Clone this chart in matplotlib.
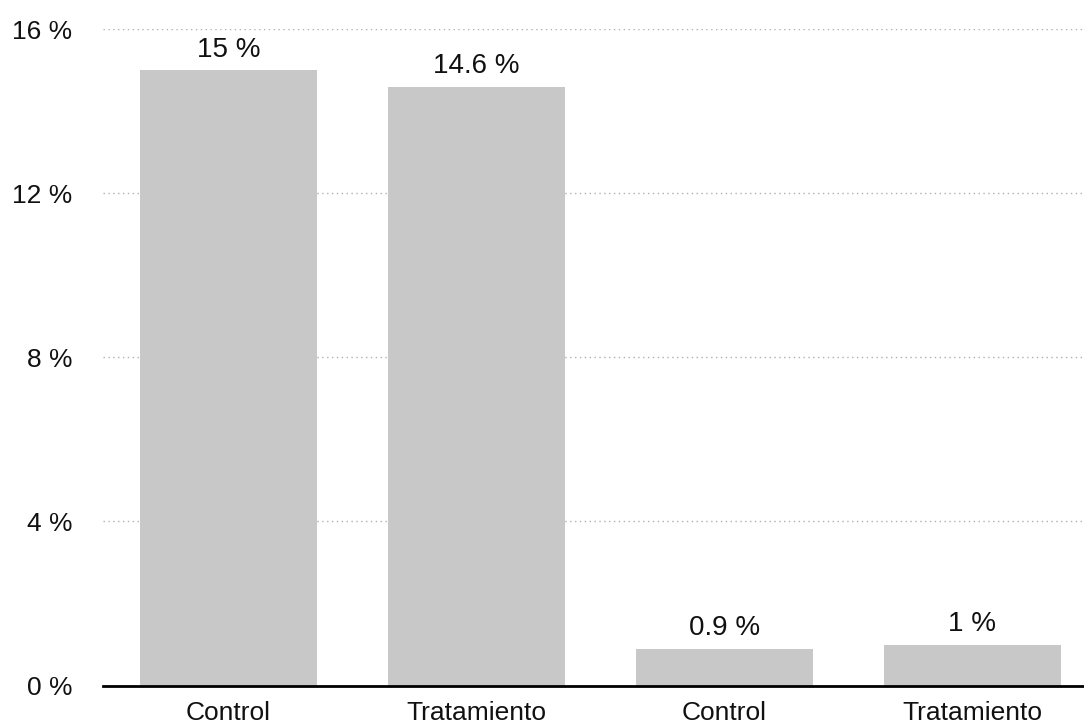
import numpy as np
import matplotlib.pyplot as plt

plt.rcParams['font.family'] = ['Liberation Sans', 'DejaVu Sans']

categories = ['Control', 'Tratamiento', 'Control', 'Tratamiento']
values = [15, 14.6, 0.9, 1]
value_labels = ['15 %', '14.6 %', '0.9 %', '1 %']
yticks = [0, 4, 8, 12, 16]

fig = plt.figure(figsize=(10.84, 7.27), dpi=100)
ax = fig.add_axes([0.095, 0.057, 0.905, 0.903])

x = np.arange(len(categories))
bars = ax.bar(x, values, width=0.714, color='#c8c8c8', zorder=2)
for b, lab in zip(bars, value_labels):
    ax.text(b.get_x() + b.get_width() / 2, b.get_height() + 0.18, lab,
            ha='center', va='bottom', fontsize=20, color='#111111')

ax.set_xlim(-0.506, 3.45)
ax.set_ylim(0, 16)
ax.set_yticks(yticks)
ax.set_yticklabels([f'{t} %' for t in yticks])
ax.set_xticks(x)
ax.set_xticklabels(categories)
ax.tick_params(axis='y', length=0, pad=22, labelsize=19, labelcolor='#111111')
ax.tick_params(axis='x', length=0, pad=11, labelsize=19, labelcolor='#111111')

ax.grid(axis='y', linestyle=(0, (1, 2.5)), color='#b0b0b0', linewidth=1, zorder=0)
for s in ['top', 'right', 'left']:
    ax.spines[s].set_visible(False)
ax.spines['bottom'].set_linewidth(2)
ax.spines['bottom'].set_color('black')
ax.spines['bottom'].set_zorder(3)

plt.savefig('out.png', dpi=100)
